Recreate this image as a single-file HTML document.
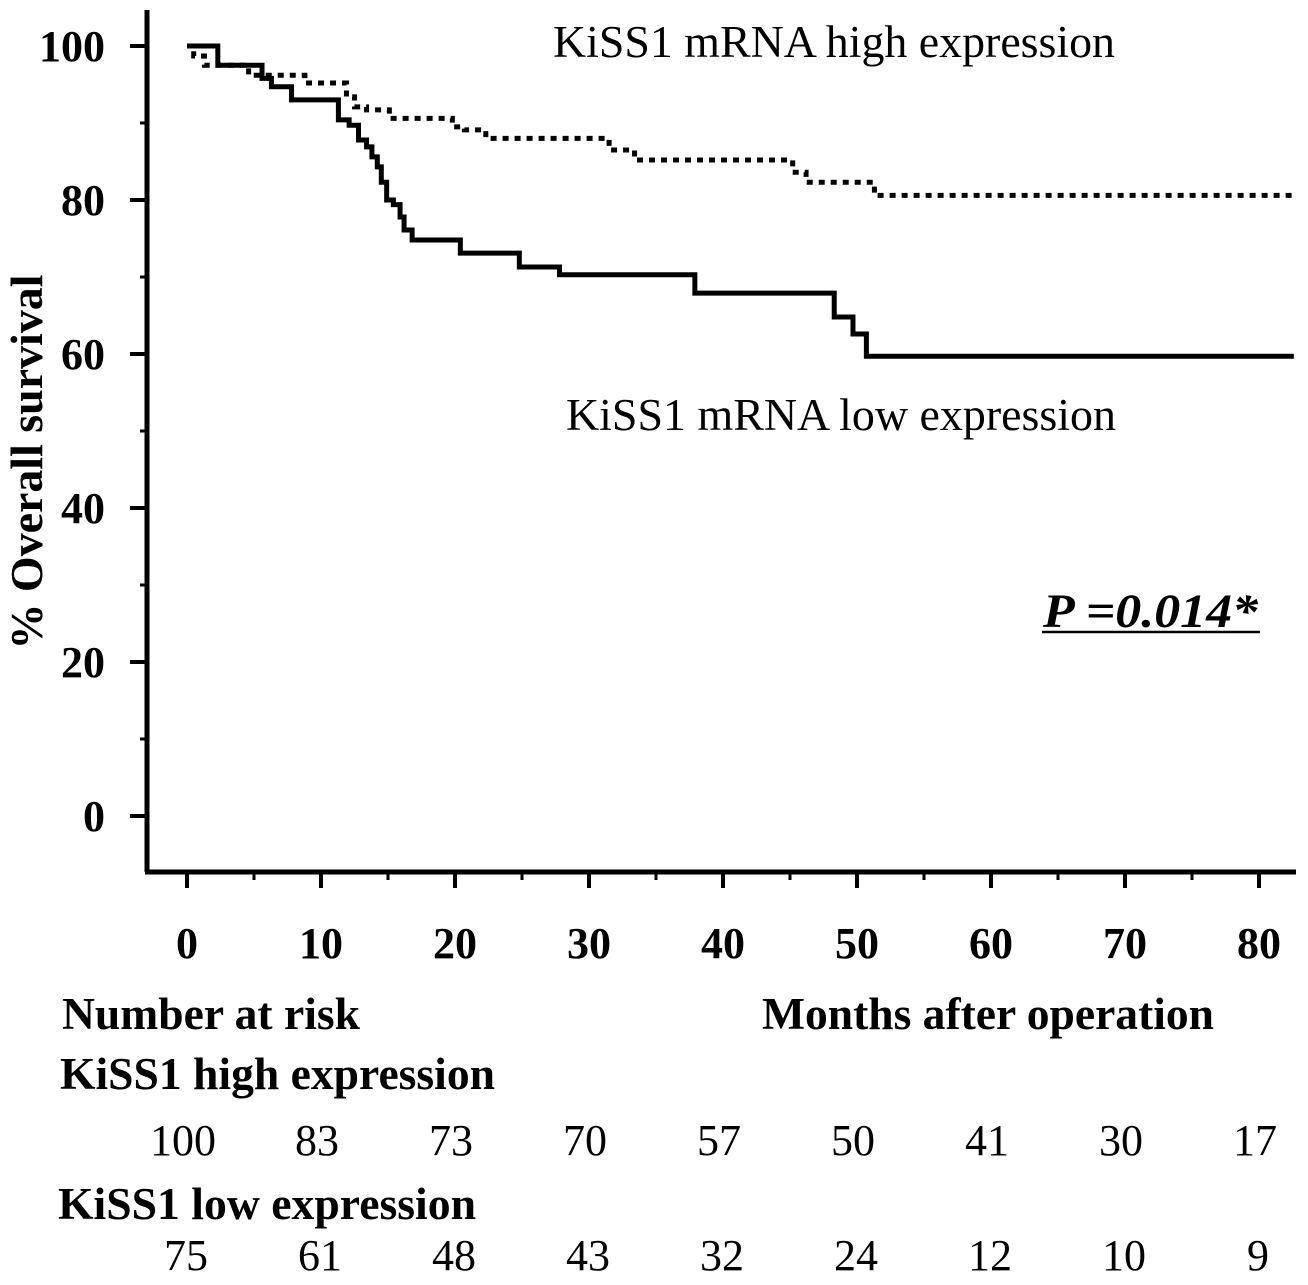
<!DOCTYPE html>
<html><head><meta charset="utf-8"><style>
body{margin:0;background:#fff}
svg{display:block;font-family:"Liberation Serif",serif}
</style></head><body>
<svg id="c" width="1308" height="1285" viewBox="0 0 1308 1285" xmlns="http://www.w3.org/2000/svg">
<g id="g"></g>
</svg>
<script>
const xTicks=[0,10,20,30,40,50,60,70,80];
const yTicks=[0,20,40,60,80,100];
const lowMonths=[0,2.3,5.6,6.3,7.8,11.3,12.1,12.8,13.4,13.8,14.2,14.5,14.9,15.4,15.9,16.2,16.8,20.4,24.8,27.8,37.9,48.3,49.7,50.7,82.6];
const lowSurv=[100,97.5,95.8,94.7,93,90.4,89.7,87.8,86.9,85.6,84.3,82.3,80,79.4,77.8,76.1,74.8,73.1,71.3,70.3,67.9,64.8,62.6,59.7,59.7];
const highMonths=[0,0.5,1.3,4.6,8.8,11.9,12.5,13.4,15.1,19.8,20.7,22.3,31.5,33.4,45.2,46.2,51.3,82.6];
const highSurv=[100,98.7,97.5,96.2,95.2,93.4,92.1,91.7,90.6,89.5,89.1,88,86.5,85.2,83.6,82.3,80.6,80.6];
const riskHigh=[100,83,73,70,57,50,41,30,17];
const riskLow=[75,61,48,43,32,24,12,10,9];

const NS="http://www.w3.org/2000/svg";
const g=document.getElementById('g');
const X=m=>187+m*13.4;
const Y=v=>816-v*7.7;
function el(t,a,txt){const e=document.createElementNS(NS,t);for(const k in a)e.setAttribute(k,a[k]);if(txt!==undefined)e.textContent=txt;g.appendChild(e);return e;}

let e;
e=el('path',{d:'M147,10 V872 M145,872 H1296',stroke:'#000','stroke-width':5,fill:'none'});



yTicks.forEach(v=>{
  e=el('line',{x1:130,x2:147,y1:Y(v),y2:Y(v),stroke:'#000','stroke-width':4});
  
  
  e=el('text',{x:105,y:Y(v)+15,'text-anchor':'end','font-size':44,'font-weight':'bold'},String(v));
  
  
  if(v<100){
    e=el('line',{x1:140,x2:147,y1:Y(v+10),y2:Y(v+10),stroke:'#000','stroke-width':3});
    
    
  }
});
xTicks.forEach((m,i)=>{
  e=el('line',{x1:X(m),x2:X(m),y1:872,y2:888,stroke:'#000','stroke-width':4});
  
  
  e=el('text',{x:X(m),y:958,'text-anchor':'middle','font-size':44,'font-weight':'bold'},String(m));
  
  
  e=el('line',{x1:X(m+5),x2:X(m+5),y1:872,y2:880,stroke:'#000','stroke-width':3});
  
  
  e=el('text',{x:X(m)-4,y:1155,'text-anchor':'middle','font-size':44},String(riskHigh[i]));
  
  
  e=el('text',{x:X(m)-1,y:1270,'text-anchor':'middle','font-size':44},String(riskLow[i]));
  
  
});
function stepPath(ms,vs){let d='M'+X(ms[0])+','+Y(vs[0]);for(let i=1;i<ms.length;i++){d+=' H'+X(ms[i])+' V'+Y(vs[i]);}return d;}
e=el('path',{d:stepPath(highMonths,highSurv),stroke:'#000','stroke-width':5,fill:'none','stroke-dasharray':'6,6'});


e=el('path',{d:stepPath(lowMonths,lowSurv),stroke:'#000','stroke-width':5,fill:'none'});



e=el('text',{x:0,y:0,transform:'translate(42,462) rotate(-90)','text-anchor':'middle','font-size':46,'font-weight':'bold',textLength:375,lengthAdjust:'spacingAndGlyphs'},'% Overall survival');


e=el('text',{x:553,y:57,'font-size':45,textLength:562,lengthAdjust:'spacingAndGlyphs'},'KiSS1 mRNA high expression');


e=el('text',{x:566,y:430,'font-size':45,textLength:550,lengthAdjust:'spacingAndGlyphs'},'KiSS1 mRNA low expression');


e=el('text',{x:1043,y:627,'font-size':48,'font-weight':'bold','font-style':'italic',textLength:215,lengthAdjust:'spacingAndGlyphs'},'P =0.014*');


e=el('line',{x1:1042,x2:1260,y1:632,y2:632,stroke:'#000','stroke-width':2.5});


e=el('text',{x:62,y:1029,'font-size':45,'font-weight':'bold',textLength:298,lengthAdjust:'spacingAndGlyphs'},'Number at risk');


e=el('text',{x:762,y:1029,'font-size':45,'font-weight':'bold',textLength:452,lengthAdjust:'spacingAndGlyphs'},'Months after operation');


e=el('text',{x:60,y:1089,'font-size':45,'font-weight':'bold',textLength:435,lengthAdjust:'spacingAndGlyphs'},'KiSS1 high expression');


e=el('text',{x:58,y:1219,'font-size':45,'font-weight':'bold',textLength:418,lengthAdjust:'spacingAndGlyphs'},'KiSS1 low expression');


</script>
</body></html>
